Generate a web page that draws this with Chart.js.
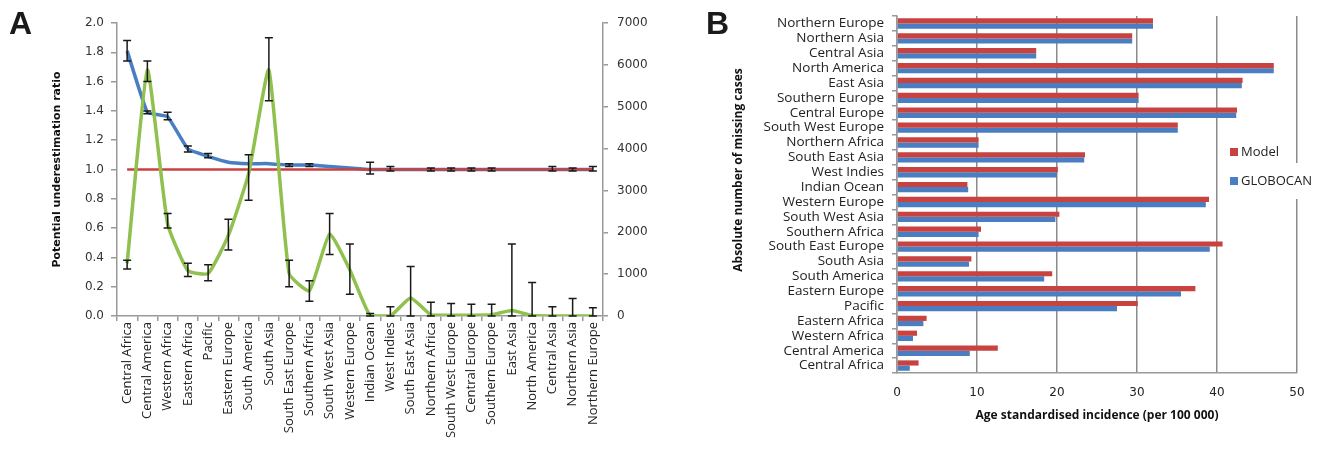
<!DOCTYPE html>
<html>
<head>
<meta charset="utf-8">
<script src="https://cdn.jsdelivr.net/npm/chart.js@4.4.1/dist/chart.umd.min.js"></script>
<style>
  html, body { margin: 0; padding: 0; background: #fff; }
  #wrap { position: relative; width: 1323px; height: 451px; overflow: hidden; }
  canvas { position: absolute; top: 0; }
  #chartA { left: 0; }
  #chartB { left: 690px; }
  .panel { position: absolute; top: 5px; font: bold 32px "Liberation Sans", Arial, sans-serif; color: #1a1a1a; }
</style>
</head>
<body>
<div id="wrap">
  <canvas id="chartA" width="690" height="451"></canvas>
  <canvas id="chartB" width="633" height="451"></canvas>
  <div class="panel" style="left:9px">A</div>
  <div class="panel" style="left:706px">B</div>
</div>
<script>
// ---------- panel A data ----------
const regionsA = ["Central Africa", "Central America", "Western Africa", "Eastern Africa", "Pacific",
  "Eastern Europe", "South America", "South Asia", "South East Europe", "Southern Africa",
  "South West Asia", "Western Europe", "Indian Ocean", "West Indies", "South East Asia",
  "Northern Africa", "South West Europe", "Central Europe", "Southern Europe", "East Asia",
  "North America", "Central Asia", "Northern Asia", "Northern Europe"];

const ratio = [1.81, 1.39, 1.36, 1.14, 1.09, 1.05, 1.04, 1.04, 1.03, 1.03, 1.02, 1.01,
  1.00, 1.00, 1.00, 1.00, 1.00, 1.00, 1.00, 1.00, 1.00, 1.00, 1.00, 1.00];
const ratioLow = [1.74, 1.38, 1.34, 1.12, 1.08, 1.05, 1.04, 1.04, 1.02, 1.02, 1.02, 1.01,
  0.97, 0.99, 1.00, 0.99, 0.99, 0.99, 0.99, 1.00, 1.00, 0.99, 0.99, 0.99];
const ratioHigh = [1.88, 1.40, 1.39, 1.16, 1.11, 1.05, 1.04, 1.04, 1.04, 1.04, 1.02, 1.01,
  1.05, 1.02, 1.00, 1.01, 1.01, 1.01, 1.01, 1.00, 1.00, 1.02, 1.01, 1.02];
const ratioOne = [1, 1, 1, 1, 1, 1, 1, 1, 1, 1, 1, 1, 1, 1, 1, 1, 1, 1, 1, 1, 1, 1, 1, 1];

const missing = [1260, 5880, 2200, 1085, 1015, 1925, 3400, 5880, 1015, 600, 1960, 1100,
  10, 0, 430, 30, 20, 20, 30, 130, 10, 0, 0, 0];
const missingLow = [1120, 5600, 2100, 945, 840, 1575, 2765, 5145, 700, 350, 1470, 520,
  0, 0, 0, 0, 0, 0, 0, 0, 0, 0, 0, 0];
const missingHigh = [1330, 6090, 2450, 1260, 1225, 2310, 3850, 6650, 1330, 840, 2450, 1720,
  60, 220, 1180, 330, 300, 280, 280, 1720, 800, 220, 420, 200];

// ---------- panel B data ----------
const regionsB = ["Northern Europe", "Northern Asia", "Central Asia", "North America", "East Asia",
  "Southern Europe", "Central Europe", "South West Europe", "Northern Africa", "South East Asia",
  "West Indies", "Indian Ocean", "Western Europe", "South West Asia", "Southern Africa",
  "South East Europe", "South Asia", "South America", "Eastern Europe", "Pacific",
  "Eastern Africa", "Western Africa", "Central America", "Central Africa"];
const model = [32.0, 29.4, 17.4, 47.1, 43.2, 30.2, 42.5, 35.1, 10.2, 23.5, 20.1, 8.8,
  39.0, 20.3, 10.5, 40.7, 9.3, 19.4, 37.3, 30.1, 3.7, 2.5, 12.6, 2.7];
const globocan = [32.0, 29.4, 17.4, 47.1, 43.1, 30.2, 42.4, 35.1, 10.2, 23.4, 20.0, 8.9,
  38.6, 19.8, 10.2, 39.1, 9.0, 18.4, 35.5, 27.5, 3.3, 2.0, 9.1, 1.6];

const AXIS = "#999";
const TXT = "#222";

// error bars for datasets that carry errLow / errHigh
const errorBars = {
  id: "errorBars",
  afterDatasetsDraw(chart) {
    const ctx = chart.ctx;
    chart.data.datasets.forEach((ds, i) => {
      if (!ds.errLow) return;
      const meta = chart.getDatasetMeta(i);
      const scale = chart.scales[ds.yAxisID];
      ctx.save();
      ctx.strokeStyle = "#1a1a1a";
      ctx.lineWidth = 1.5;
      meta.data.forEach((pt, j) => {
        const lo = ds.errLow[j], hi = ds.errHigh[j];
        if (hi - lo <= 0) return;
        const x = pt.x;
        const yLo = scale.getPixelForValue(lo);
        const yHi = scale.getPixelForValue(hi);
        ctx.beginPath();
        ctx.moveTo(x, yLo); ctx.lineTo(x, yHi);
        ctx.moveTo(x - 4, yLo); ctx.lineTo(x + 4, yLo);
        ctx.moveTo(x - 4, yHi); ctx.lineTo(x + 4, yHi);
        ctx.stroke();
      });
      ctx.restore();
    });
  }
};

// ===== Panel A =====
new Chart(document.getElementById("chartA"), {
  type: "line",
  data: {
    labels: regionsA,
    datasets: [
      {
        label: "Ratio",
        data: ratio,
        yAxisID: "y",
        borderColor: "#4A7EC2",
        borderWidth: 3.5,
        pointRadius: 0,
        tension: 0.1,
        order: 2,
        errLow: ratioLow,
        errHigh: ratioHigh
      },
      {
        label: "Reference",
        data: ratioOne,
        yAxisID: "y",
        borderColor: "#C8423F",
        borderWidth: 2.5,
        pointRadius: 0,
        order: 1
      },
      {
        label: "Missing cases",
        data: missing,
        yAxisID: "y1",
        borderColor: "#90C04E",
        borderWidth: 3.5,
        pointRadius: 0,
        tension: 0.15,
        order: 0,
        errLow: missingLow,
        errHigh: missingHigh
      }
    ]
  },
  options: {
    responsive: false,
    animation: false,
    layout: { padding: { top: 23, left: 47, right: 27, bottom: 0 } },
    plugins: { legend: { display: false }, tooltip: { enabled: false } },
    scales: {
      x: {
        offset: true,
        grid: { drawOnChartArea: false, offset: true, tickLength: 5, color: AXIS, lineWidth: 1.5 },
        border: { color: AXIS, width: 1.5 },
        ticks: {
          minRotation: 90, maxRotation: 90, autoSkip: false, padding: 1,
          color: TXT, font: { family: "Open Sans", size: 13 }
        },
        afterFit: (s) => { s.height = 135; }
      },
      y: {
        position: "left",
        min: 0, max: 2,
        grid: { drawOnChartArea: false, tickLength: 6, color: AXIS, lineWidth: 1.5 },
        border: { color: AXIS, width: 1.5 },
        ticks: {
          stepSize: 0.2, padding: 7, color: "#333",
          font: { family: "DejaVu Sans", size: 12 },
          callback: (v) => v.toFixed(1)
        },
        title: {
          display: true,
          text: "Potential underestimation ratio",
          color: "#111",
          font: { family: "DejaVu Sans", size: 11, weight: "bold" },
          padding: { top: 4, bottom: 0 }
        },
        afterFit: (s) => { s.width = 70; }
      },
      y1: {
        position: "right",
        min: 0, max: 7000,
        grid: { drawOnChartArea: false, tickLength: 5, color: AXIS, lineWidth: 1.5 },
        border: { color: AXIS, width: 1.5 },
        ticks: {
          stepSize: 1000, padding: 9, color: "#333",
          font: { family: "DejaVu Sans", size: 12 },
          callback: (v) => String(v)
        },
        afterFit: (s) => { s.width = 60; }
      }
    }
  },
  plugins: [errorBars]
});

// ===== Panel B =====
const sideTitle = {
  id: "sideTitle",
  afterDraw(chart, args, opts) {
    const ctx = chart.ctx;
    ctx.save();
    ctx.translate(opts.x, opts.y);
    ctx.rotate(-Math.PI / 2);
    ctx.font = "bold 12px 'Open Sans'";
    ctx.fillStyle = "#111";
    ctx.textAlign = "center";
    ctx.textBaseline = "middle";
    ctx.fillText(opts.text, 0, 0);
    ctx.restore();
  }
};

const boxLegend = {
  id: "boxLegend",
  afterDraw(chart, args, opts) {
    const ctx = chart.ctx;
    ctx.save();
    ctx.font = "13px 'Open Sans'";
    ctx.textBaseline = "middle";
    chart.data.datasets.forEach((ds, i) => {
      const y = opts.y + i * opts.gap;
      const w = ctx.measureText(ds.label).width;
      ctx.fillStyle = "#fff";
      ctx.fillRect(opts.x + 10, y - 18, w + 4, 36);
      ctx.fillStyle = ds.backgroundColor;
      ctx.fillRect(opts.x, y - 4, 8, 8);
      ctx.fillStyle = TXT;
      ctx.fillText(ds.label, opts.x + 11, y);
    });
    ctx.restore();
  }
};

new Chart(document.getElementById("chartB"), {
  type: "bar",
  data: {
    labels: regionsB,
    datasets: [
      { label: "Model", data: model, backgroundColor: "#C8423F" },
      { label: "GLOBOCAN", data: globocan, backgroundColor: "#4A7EC2" }
    ]
  },
  options: {
    indexAxis: "y",
    responsive: false,
    animation: false,
    categoryPercentage: 0.7,
    barPercentage: 1.0,
    layout: { padding: { top: 15, left: 60, right: 26, bottom: 20 } },
    plugins: {
      legend: { display: false },
      tooltip: { enabled: false },
      sideTitle: { text: "Absolute number of missing cases", x: 49, y: 170 },
      boxLegend: { x: 540, y: 152, gap: 29 }
    },
    scales: {
      x: {
        min: 0, max: 50,
        grid: { color: "#8a8a8a", lineWidth: 1.5, drawTicks: false },
        border: { color: AXIS, width: 1.5 },
        ticks: { stepSize: 10, padding: 13, color: TXT, font: { family: "DejaVu Sans", size: 12 } },
        title: {
          display: true,
          text: "Age standardised incidence (per 100 000)",
          color: "#111",
          font: { family: "Open Sans", size: 12, weight: "bold" },
          padding: { top: 0, bottom: 8 }
        },
        afterFit: (s) => { s.height = 58; }
      },
      y: {
        grid: { drawOnChartArea: false, offset: true, tickLength: 5, color: AXIS, lineWidth: 1.5 },
        border: { color: AXIS, width: 1.5 },
        ticks: { autoSkip: false, padding: 8, color: TXT, font: { family: "Open Sans", size: 13.5 } },
        afterFit: (s) => { s.width = 147; }
      }
    }
  },
  plugins: [sideTitle, boxLegend]
});
</script>
</body>
</html>
